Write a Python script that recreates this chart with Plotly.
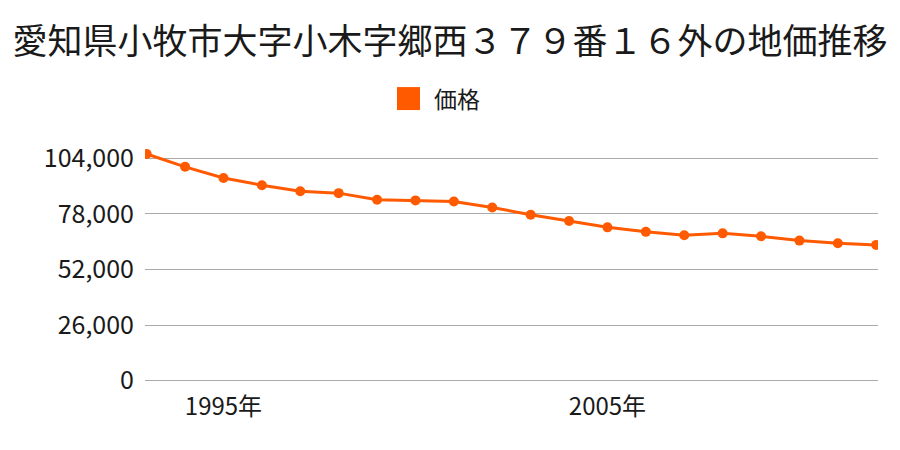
import plotly.graph_objects as go

years = list(range(1993, 2013))
prices = [106000, 100000, 94800, 91400, 88600, 87700, 84600, 84300, 83800, 81000,
          77600, 74700, 71700, 69600, 68000, 68900, 67500, 65500, 64300, 63500]
y_ticks = [0, 26000, 52000, 78000, 104000]
y_tick_text = ["0", "26,000", "52,000", "78,000", "104,000"]
x_ticks = [1995, 2005]
x_tick_text = ["1995年", "2005年"]
title_text = "愛知県小牧市大字小木字郷西３７９番１６外の地価推移"
series_name = "価格"

color = "#ff5a00"
font = "Noto Sans CJK JP"
text_color = "#1a1a1a"

# page body has an 8px offset; plot area on screen: x 145..878, y 145..382.3
fig = go.Figure()
fig.add_trace(go.Scatter(
    x=years, y=prices, mode="lines+markers", name=series_name,
    line=dict(color=color, width=3),
    marker=dict(color=color, size=10),
    showlegend=False,
))

fig.update_layout(
    width=900, height=450,
    paper_bgcolor="white", plot_bgcolor="white",
    margin=dict(l=137, r=30, t=137, b=76),
    font=dict(family=font, color=text_color),
    title=dict(text=title_text, x=442 / 900, xref="container", xanchor="center",
               y=1 - 34 / 450, yref="container", yanchor="middle",
               font=dict(size=35, family=font, color=text_color)),
    showlegend=False,
    xaxis=dict(range=[1992.956, 2012.046], tickvals=x_ticks, ticktext=x_tick_text,
               showgrid=False, zeroline=False, showline=False, ticks="",
               ticklabelstandoff=8,
               tickfont=dict(size=24, family=font, color=text_color)),
    yaxis=dict(range=[-600, 110200], tickvals=y_ticks, ticktext=y_tick_text,
               showgrid=True, gridcolor="#aaaaaa", gridwidth=1, zeroline=False,
               showline=False, ticks="", ticklabelstandoff=10,
               tickfont=dict(size=25, family=font, color=text_color)),
)

# legend swatch and label (paper coordinates)
def px_x(sx):
    return (sx - 145) / 733

def px_y(sy):
    return (382.3 - sy) / 237.3

fig.add_shape(type="rect", xref="paper", yref="paper",
              x0=px_x(397), x1=px_x(420), y0=px_y(110), y1=px_y(87),
              fillcolor=color, line=dict(width=0))
fig.add_annotation(text=series_name, xref="paper", yref="paper",
                   x=px_x(432), y=px_y(98), xanchor="left", yanchor="middle",
                   showarrow=False, font=dict(size=23, family=font, color=text_color))

fig.write_html("out.html")
